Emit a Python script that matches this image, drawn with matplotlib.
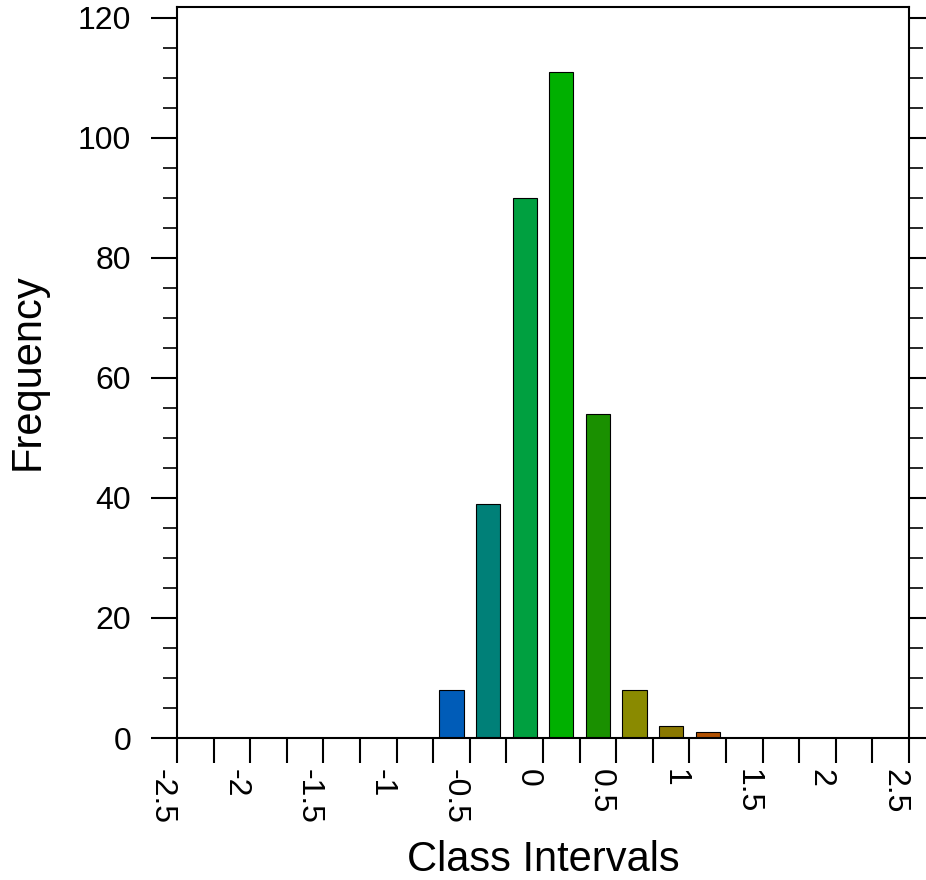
import numpy as np
import matplotlib.pyplot as plt

plt.rcParams['font.family'] = ['Liberation Sans', 'DejaVu Sans']

# bin edges and counts (20 bins of width 0.25)
edges = np.arange(-2.5, 2.5001, 0.25)
counts = [0, 0, 0, 0, 0, 0, 0, 8, 39, 90, 111, 54, 8, 2, 1, 0, 0, 0, 0, 0]
bar_colors = ['#0050b0'] * 7 + ['#005cb8', '#008078', '#00a040', '#00b000',
              '#1a9000', '#8a8a00', '#8a7800', '#b05000'] + ['#b05000'] * 5
x_labels = ['-2.5', '-2', '-1.5', '-1', '-0.5', '0', '0.5', '1', '1.5', '2', '2.5']

centers = (edges[:-1] + edges[1:]) / 2
width = 0.25 * 0.66

fig = plt.figure(figsize=(9.26, 8.8), dpi=100)
ax = fig.add_axes([177 / 926, 1 - 738 / 880, 732 / 926, 731 / 880])

ax.bar(centers, counts, width=width, color=bar_colors, edgecolor='black',
       linewidth=0.8, zorder=2)

ax.set_xlim(-2.5, 2.5)
ax.set_ylim(0, 121.8)

# x ticks at every bin edge, labels every 0.5
ax.set_xticks(edges)
lab = []
for i in range(len(edges)):
    lab.append(x_labels[i // 2] if i % 2 == 0 else '')
ax.set_xticklabels(lab, rotation=-90, ha='right', va='top')
ax.tick_params(axis='x', direction='out', length=18, width=1.5,
               labelsize=23, pad=4, top=False)

ax.set_yticks(np.arange(0, 121, 20))
ax.set_yticks(np.arange(0, 121, 5), minor=True)
ax.tick_params(axis='y', which='major', direction='out', length=19, width=1.5,
               labelsize=23, pad=14, right=True)
ax.tick_params(axis='y', which='minor', direction='out', length=10, width=1.2,
               right=True)

for s in ax.spines.values():
    s.set_linewidth(1.5)

fig.text(543 / 926, 1 - 860 / 880, 'Class Intervals', fontsize=30,
         ha='center', va='center')
fig.text(28 / 926, 1 - 372 / 880, 'Frequency', fontsize=30,
         ha='center', va='center', rotation=90)

fig.savefig('out.png', dpi=100)
